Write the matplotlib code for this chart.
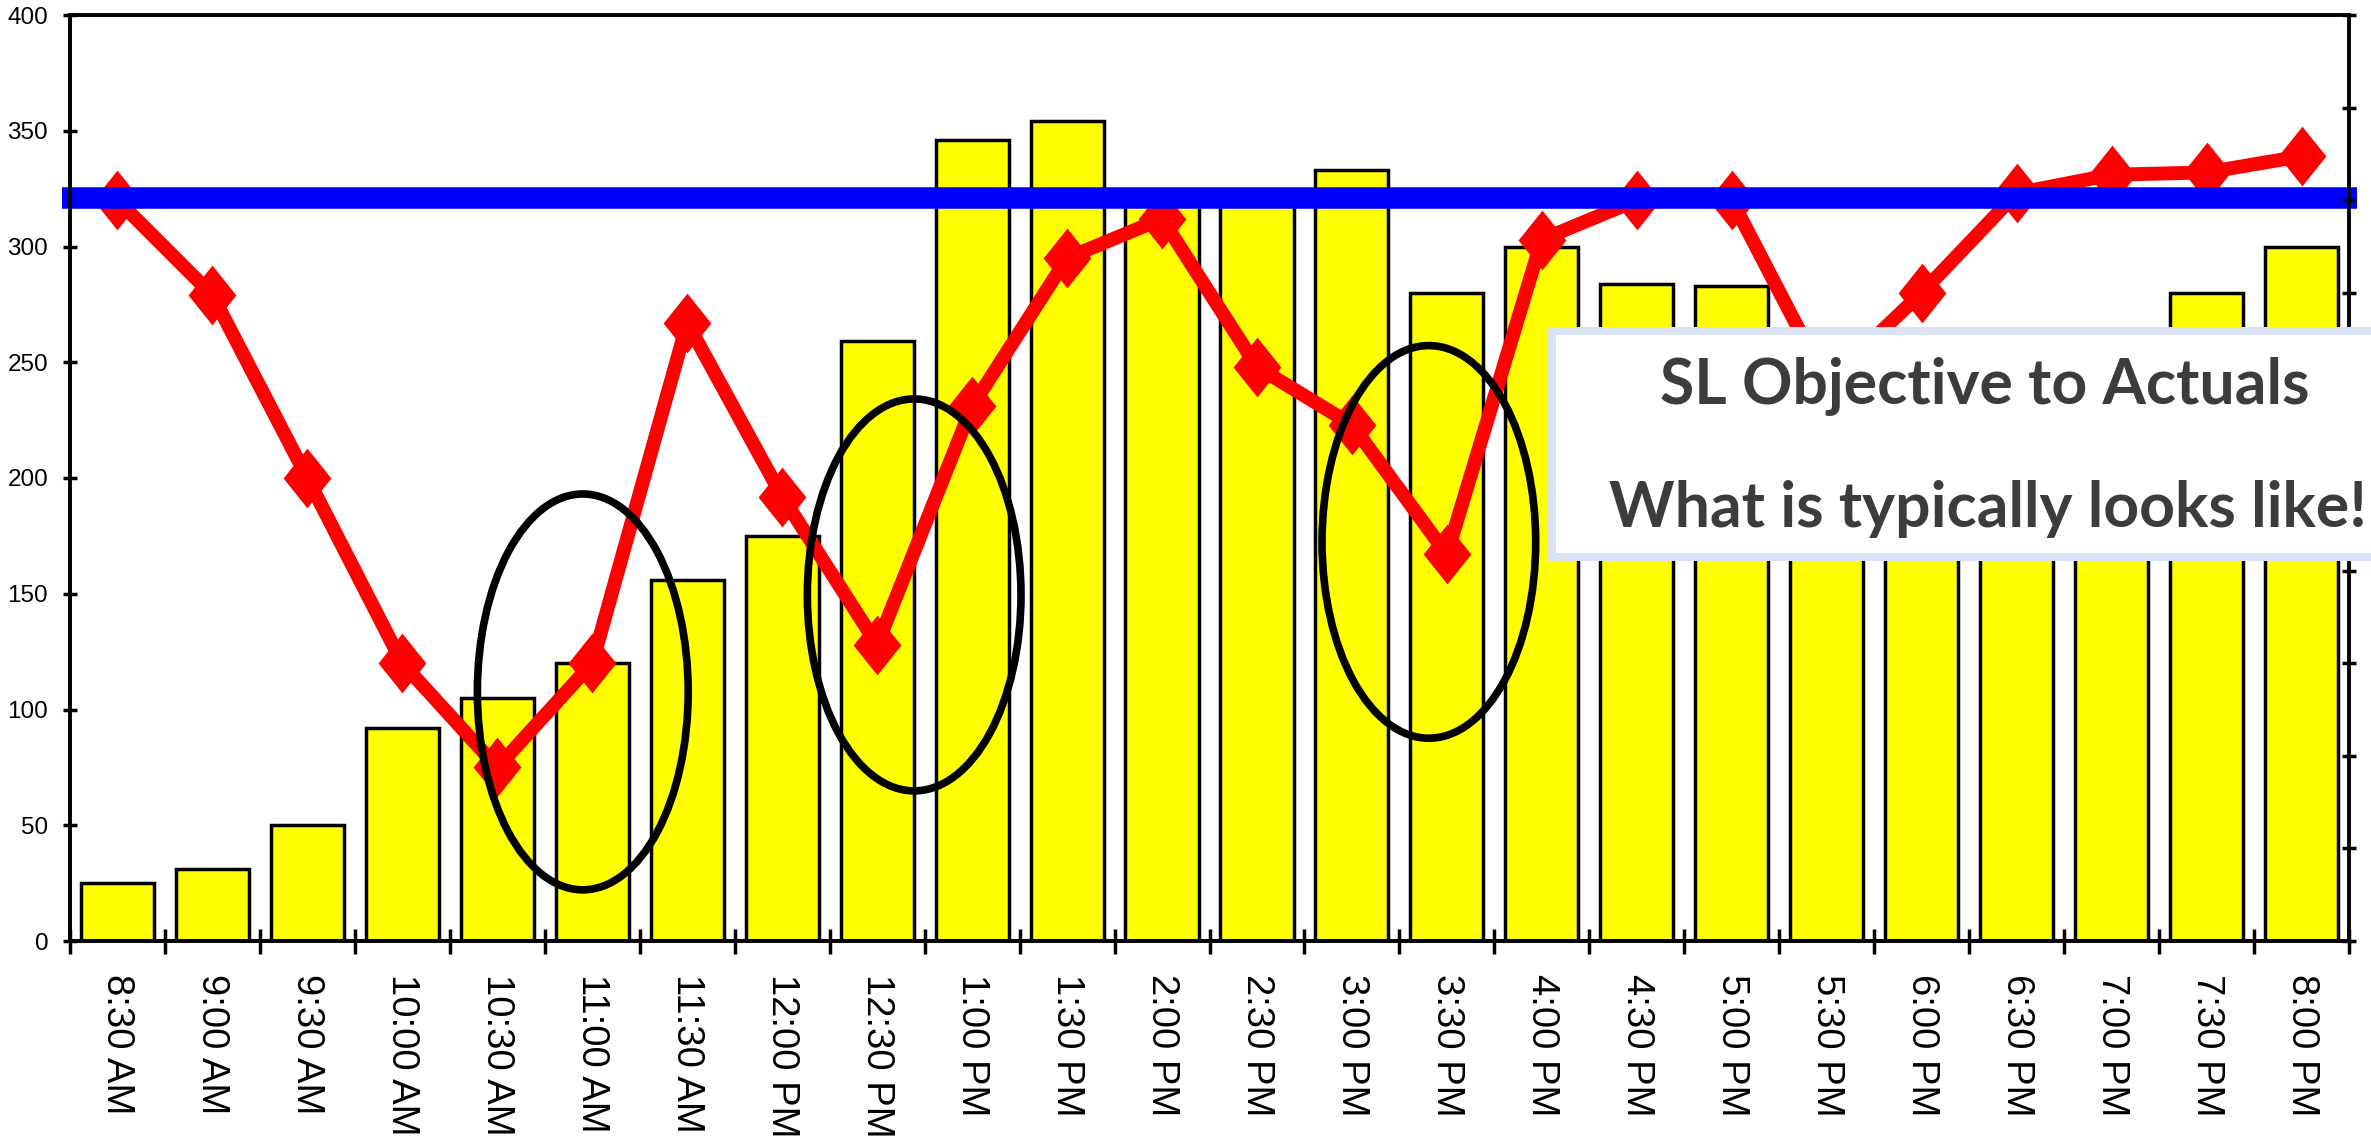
import numpy as np
import matplotlib
matplotlib.use("Agg")
import matplotlib.pyplot as plt
from matplotlib.patches import Ellipse, Rectangle
from matplotlib.path import Path

# Half-hour intervals of the day
time_labels = ["8:30 AM", "9:00 AM", "9:30 AM", "10:00 AM", "10:30 AM", "11:00 AM",
               "11:30 AM", "12:00 PM", "12:30 PM", "1:00 PM", "1:30 PM", "2:00 PM",
               "2:30 PM", "3:00 PM", "3:30 PM", "4:00 PM", "4:30 PM", "5:00 PM",
               "5:30 PM", "6:00 PM", "6:30 PM", "7:00 PM", "7:30 PM", "8:00 PM"]

# Call volume per interval (bars)
calls_offered = [25, 31, 50, 92, 105, 120, 156, 175, 259, 346, 354, 320,
                 320, 333, 280, 300, 284, 283, 245, 250, 240, 250, 280, 300]

# Actual service level per interval (red line)
service_level = [320, 279, 200, 120, 75, 120, 267, 192, 128, 231, 295, 312,
                 248, 223, 167, 303, 320, 320, 241, 280, 323, 331, 332, 339]

# Service level objective (blue line)
sl_objective = 321

y_ticks = [0, 50, 100, 150, 200, 250, 300, 350, 400]

title_lines = ["SL Objective to Actuals", "What is typically looks like!"]

W, H = 2371, 1139
fig = plt.figure(figsize=(W / 100, H / 100), dpi=100)
ax = fig.add_axes([70 / W, 1 - 941 / H, 2279 / W, 926 / H])

x = np.arange(len(time_labels))

ax.bar(x, calls_offered, width=0.77, color="#FFFF00", edgecolor="black",
       linewidth=2.5, zorder=2)

diamond = Path([(0, 1), (0.8, 0), (0, -1), (-0.8, 0), (0, 1)],
               [Path.MOVETO, Path.LINETO, Path.LINETO, Path.LINETO, Path.CLOSEPOLY])
ax.plot(x, service_level, color="#FF0000", lw=10, marker=diamond, markersize=43,
        markeredgewidth=0, zorder=4)

ax.axhline(sl_objective, xmin=-0.0035, xmax=1.0035, color="#0000FF", lw=15.5,
           clip_on=False, zorder=5, solid_capstyle="butt")

# Highlight rings around the service-level dips
rings = [(4.90, 107.6, 2.22, 171.0), (8.39, 149.5, 2.25, 169.3), (13.81, 172.4, 2.25, 169.6)]
for cx, cy, w, h in rings:
    ax.add_patch(Ellipse((cx, cy), w, h, fill=False, edgecolor="black", lw=5.5, zorder=6))

ax.set_xlim(-0.5, len(time_labels) - 0.5)
ax.set_ylim(0, 400)
ax.set_yticks(y_ticks)
ax.set_yticklabels([str(v) for v in y_ticks], family="Liberation Sans")

ax.set_xticks(np.arange(-0.5, len(time_labels), 1))
ax.set_xticklabels([])
ax.set_xticks(x, minor=True)
ax.set_xticklabels(time_labels, minor=True, rotation=-90, fontsize=27.5,
                   family="Liberation Sans")
ax.tick_params(axis="x", which="major", direction="inout", length=18, width=2.5)
ax.tick_params(axis="x", which="minor", length=0, pad=24)
ax.tick_params(axis="y", direction="inout", length=9.5, width=2.5, labelsize=17.5, pad=11)

for s in ax.spines.values():
    s.set_linewidth(2.6)

ax2 = ax.twinx()
ax2.set_ylim(0, 10)
ax2.set_yticks(range(11))
ax2.tick_params(axis="y", direction="inout", length=10, width=2.5, labelright=False)
for s in ax2.spines.values():
    s.set_linewidth(2.6)

# Caption box
box = Rectangle((1551.5 / W, 1 - 557 / H), (2400 - 1551.5) / W, (557 - 331) / H,
                transform=fig.transFigure, facecolor="white", edgecolor="#DAE3F3",
                lw=5.8, zorder=10)
fig.add_artist(box)

t1 = fig.text(1985 / W, 1 - 403 / H, title_lines[0], ha="center", va="baseline",
              fontsize=45, fontweight="bold", family="Lato", color="#3C3C3C", zorder=11)
renderer = fig.canvas.get_renderer()
wpx = t1.get_window_extent(renderer).width
size = min(45, 45 * 652 / wpx)
t1.set_fontsize(size)
fig.text(1988 / W, 1 - 527 / H, title_lines[1], ha="center", va="baseline",
         fontsize=size, fontweight="bold", family="Lato", color="#3C3C3C", zorder=11)

fig.savefig("out.png", dpi=100)
